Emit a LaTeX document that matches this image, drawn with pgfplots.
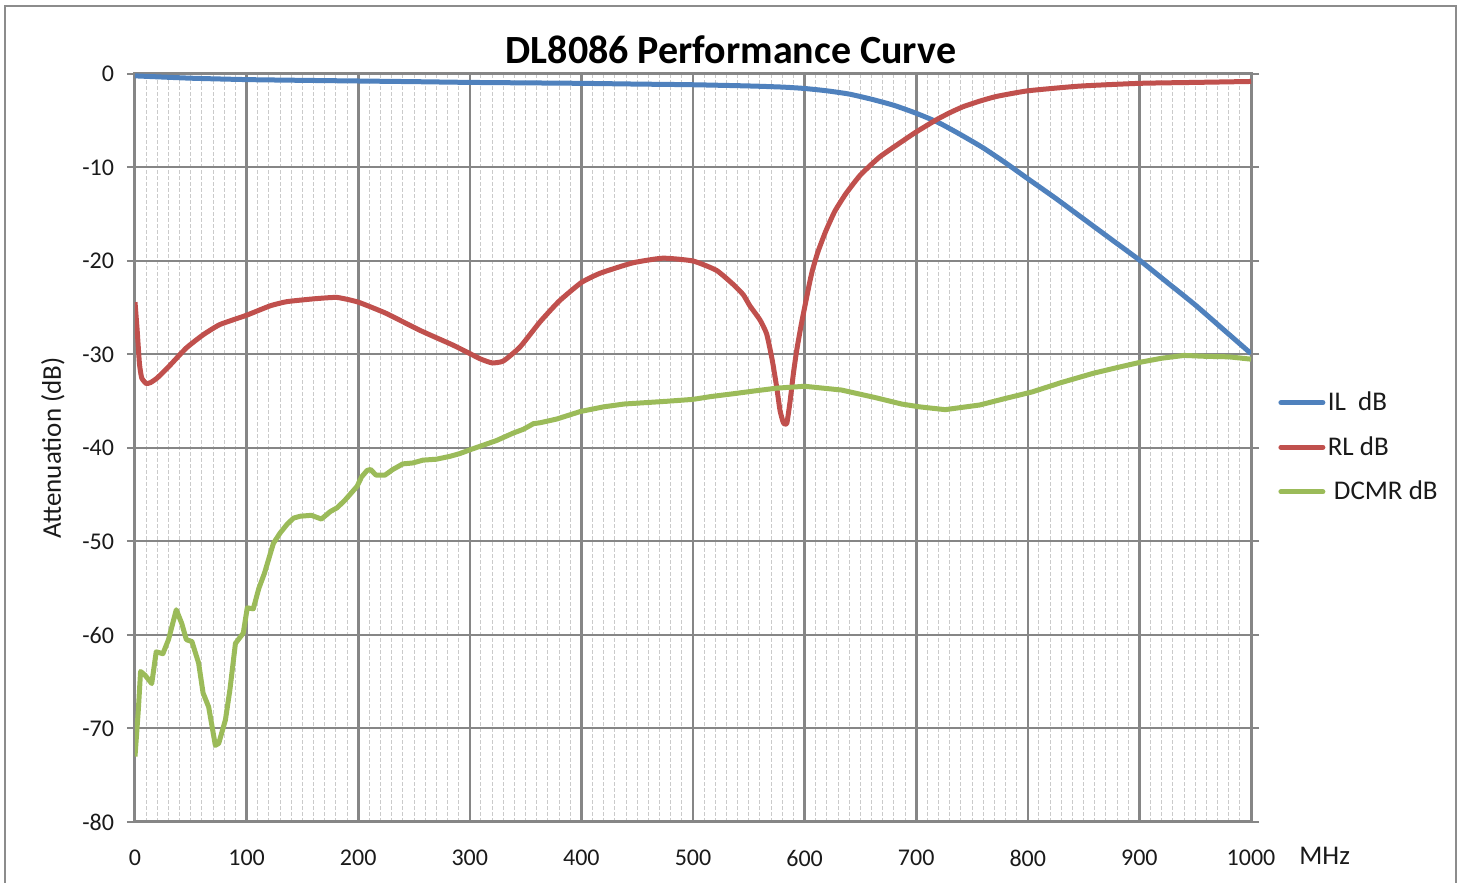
\documentclass[border=0pt]{standalone}
\usepackage{pgfplots}
\pgfplotsset{compat=1.18}
\usepackage{fontspec}
\setmainfont{Carlito}
\definecolor{ilblue}{HTML}{4F81BD}
\definecolor{rlred}{HTML}{C0504D}
\definecolor{dcgreen}{HTML}{9BBB59}
\definecolor{gridgray}{HTML}{868686}
\definecolor{minorgray}{HTML}{CACACA}
\definecolor{framegray}{HTML}{8C8C8C}
\definecolor{txt}{HTML}{1A1A1A}

\pgfplotstableread{
x y
0 -0.2
50 -0.45
100 -0.6
150 -0.68
200 -0.75
250 -0.82
300 -0.9
350 -0.95
400 -1.0
450 -1.08
500 -1.15
550 -1.28
580 -1.4
600 -1.55
620 -1.8
640 -2.15
660 -2.7
680 -3.35
700 -4.2
720 -5.2
740 -6.5
760 -7.9
780 -9.5
800 -11.2
825 -13.3
850 -15.5
875 -17.7
900 -19.9
925 -22.3
950 -24.7
975 -27.3
1000 -29.9
}\ILdata

\pgfplotstableread{
x y
0 -24.4
2 -27.5
4 -31
6 -32.5
10 -33.1
14 -33.0
20 -32.5
31 -31.2
46 -29.3
61 -27.9
76 -26.8
100 -25.8
121 -24.8
136 -24.35
160 -24.05
181 -23.9
200 -24.4
225 -25.6
255 -27.4
285 -29.0
300 -29.9
310 -30.5
320 -30.9
330 -30.7
345 -29.2
363 -26.5
380 -24.3
400 -22.3
417 -21.3
446 -20.2
473 -19.7
500 -20.0
521 -21.0
536 -22.5
545 -23.6
551 -24.8
560 -26.3
566 -27.8
571 -30.6
575 -33.5
578 -36.0
581 -37.3
584 -37.4
587 -35.0
590 -32.0
593 -29.5
597 -26.8
600 -25.0
604 -22.6
607 -21.0
612 -19.0
619 -16.8
627 -14.7
637 -12.8
650 -10.8
667 -8.9
685 -7.4
700 -6.2
718 -4.9
730 -4.15
742 -3.5
757 -2.9
772 -2.4
800 -1.8
846 -1.3
900 -1.0
950 -0.9
1000 -0.8
}\RLdata

\pgfplotstableread{
x y
0 -73.0
3 -68
5 -63.9
9 -64.3
15 -65.2
19 -61.8
25 -62.0
30 -60.5
37 -57.3
42 -58.8
46 -60.5
51 -60.7
57 -63.0
61 -66.2
66 -67.7
72 -71.8
75 -71.6
81 -69.1
85 -65.9
90 -60.9
97 -59.8
100.6 -57.1
106 -57.2
111 -55.0
116 -53.4
124 -50.2
130 -49.1
136 -48.2
142 -47.5
148 -47.3
158 -47.2
167 -47.6
175 -46.8
181 -46.4
188 -45.6
199 -44.1
203 -43.1
208 -42.4
211 -42.3
216 -42.9
224 -42.9
231 -42.3
240 -41.7
249 -41.6
258 -41.3
270 -41.2
282 -40.9
291 -40.6
300 -40.2
312 -39.7
324 -39.2
339 -38.4
348 -38.0
357 -37.4
363 -37.3
378 -36.9
399 -36.1
420 -35.6
438 -35.3
477 -35.0
500 -34.8
516 -34.5
536 -34.2
555 -33.9
575 -33.6
600 -33.4
633 -33.8
663 -34.6
687 -35.3
703 -35.6
726 -35.9
757 -35.4
780 -34.7
804 -34.0
830 -33.0
859 -32.0
880 -31.4
902 -30.8
920 -30.4
940 -30.1
960 -30.2
980 -30.25
1000 -30.5
}\DCdata

\begin{document}
\begin{tikzpicture}
\useasboundingbox (0,0) rectangle (732pt,441.5pt);
\draw[framegray, line width=1pt] (2.5pt,-5pt) -- (2.5pt,438.5pt) -- (728pt,438.5pt) -- (728pt,-5pt);
\begin{axis}[
  at={(67.5pt,30.5pt)}, anchor=south west,
  width=558pt, height=374pt, scale only axis,
  xmin=0, xmax=1000, ymin=-80, ymax=0,
  xtick={0,100,...,1000}, ytick={-80,-70,...,0},
  minor x tick num=9,
  xmajorgrids, ymajorgrids, xminorgrids,
  major x grid style={gridgray, line width=1.3pt},
  major y grid style={gridgray, line width=1pt},
  minor x grid style={minorgray, line width=0.5pt, dash pattern=on 2pt off 1pt},
  axis line style={gridgray, line width=1.5pt},
  tick align=outside, major tick length=4pt,
  xtick style={draw=none}, minor tick style={draw=none},
  ytick style={gridgray, line width=1pt},
  /pgf/number format/assume math mode=true,
  /pgf/number format/1000 sep={},
  ticklabel style={font=\fontsize{12}{14}\selectfont, text=txt},
  xticklabel style={anchor=center, yshift=-14pt},
  yticklabel style={anchor=east, xshift=-3pt},
  title={DL8086 Performance Curve},
  title style={at={(rel axis cs:0.534,1)}, anchor=center, yshift=6pt, font=\fontsize{20}{22}\bfseries, text=black},
  ylabel={Attenuation (dB)},
  ylabel style={at={(axis description cs:-0.0735,0.5)}, anchor=center, font=\fontsize{13.5}{15}\selectfont, text=txt},
  xlabel={MHz},
  xlabel style={at={(axis description cs:1.066,-0.0448)}, anchor=center, font=\fontsize{13.5}{15}\selectfont, text=txt},
  legend style={draw=none, fill=none, at={(1.0242,0.501)}, anchor=west, font=\fontsize{13.5}{15}\selectfont, text=txt, row sep=9pt, inner xsep=0pt, inner ysep=0pt, nodes={inner sep=1.2pt}},
  legend cell align=left,
  legend image code/.code={\draw[#1, line width=2.5pt, line cap=round] (0pt,0pt) -- (21pt,0pt);},
  every axis plot/.append style={line width=2.5pt, line join=round, no marks},
]
\addplot[ilblue, smooth, tension=0.35] table {\ILdata};
\addlegendentry{IL\ \ dB}
\addplot[rlred, smooth, tension=0.3] table {\RLdata};
\addlegendentry{RL dB}
\addplot[dcgreen] table {\DCdata};
\addlegendentry{\ DCMR dB}
\end{axis}
\end{tikzpicture}
\end{document}
